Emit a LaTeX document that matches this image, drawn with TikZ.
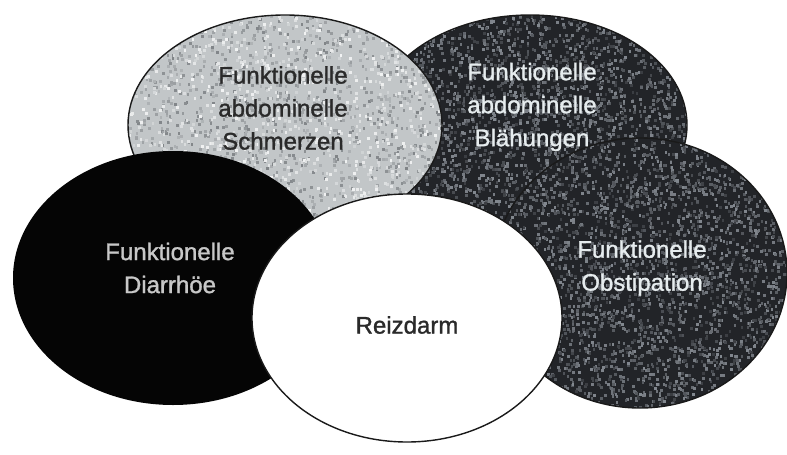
\documentclass[tikz,border=0pt]{standalone}
\usepackage{fontspec}
\setmainfont{Liberation Sans}
\newfontfamily\lblfont[FakeBold=1.3]{Liberation Sans}
\usetikzlibrary{shapes.geometric}
\definecolor{lightspeck}{HTML}{C2C6C8}
\definecolor{darkspeck}{HTML}{222428}
\definecolor{nearblack}{HTML}{050505}
\definecolor{outl}{HTML}{1A1A1A}
\definecolor{lighttext}{HTML}{E6ECEE}
\definecolor{greytext}{HTML}{C8C8C8}
\definecolor{darktext}{HTML}{2A2A2A}
\definecolor{specklight}{HTML}{9CA2AA}
\definecolor{speckdark}{HTML}{6E7276}
\tikzset{
  blob/.style={ellipse, inner sep=0pt},
  rim/.style={draw=outl, line width=1.4pt},
  lbl/.style={align=center, font=\lblfont\fontsize{24}{33}\selectfont, inner sep=0pt}
}
% #1 cx, #2 cy, #3 rx, #4 ry, #5 speck colour, #6 count, #7 base colour
\newcommand\myspeckle[7]{%
  \begin{scope}
    \clip (#1,#2) ellipse [x radius=#3, y radius=#4];
    \foreach \i in {1,...,#6}{%
      \pgfmathsetmacro\px{#1-#3+2*#3*rnd}%
      \pgfmathtruncatemacro\py{#2-#4+2*#4*rnd}%
      \pgfmathtruncatemacro\pc{20+60*rnd}%
      \fill[#5!\pc!#7] (\px,\py) rectangle ++(2.6,2.6);
    }
  \end{scope}}
\begin{document}
\begin{tikzpicture}[x=1pt,y=-1pt]
\pgfmathsetseed{7}
\useasboundingbox (0,0) rectangle (787,455);
\fill[white] (0,0) rectangle (787,455);
% back to front
\node[blob, fill=darkspeck, minimum width=314pt, minimum height=220pt] (bl) at (530,125) {};
\myspeckle{530}{125}{157}{110}{specklight}{3000}{darkspeck}
\draw[rim] (530,125) ellipse [x radius=157, y radius=110];
\node[blob, fill=darkspeck, minimum width=294pt, minimum height=270pt] (ob) at (640,273) {};
\myspeckle{640}{273}{147}{135}{specklight}{3400}{darkspeck}
\draw[rim] (640,273) ellipse [x radius=147, y radius=135];
\node[blob, fill=lightspeck, minimum width=314pt, minimum height=220pt] (sc) at (285,125) {};
\myspeckle{285}{125}{157}{110}{speckdark}{1400}{lightspeck}
\myspeckle{285}{125}{157}{110}{white}{1000}{lightspeck}
\draw[rim] (285,125) ellipse [x radius=157, y radius=110];
\node[blob, fill=nearblack, minimum width=320pt, minimum height=254pt] (di) at (173,278) {};
\node[blob, rim, fill=white, minimum width=310pt, minimum height=248pt] (re) at (407,318) {};
% labels
\node[lbl, text=darktext] (tsc) at (283,108) {Funktionelle\\abdominelle\\Schmerzen};
\node[lbl, text=lighttext] (tbl) at (532,107) {Funktionelle\\abdominelle\\Blähungen};
\node[lbl, text=greytext] (tdi) at (170,268) {Funktionelle\\Diarrhöe};
\node[lbl, text=darktext] (tre) at (407,325) {Reizdarm};
\node[lbl, text=lighttext] (tob) at (642,268) {Funktionelle\\Obstipation};
\end{tikzpicture}
\end{document}
